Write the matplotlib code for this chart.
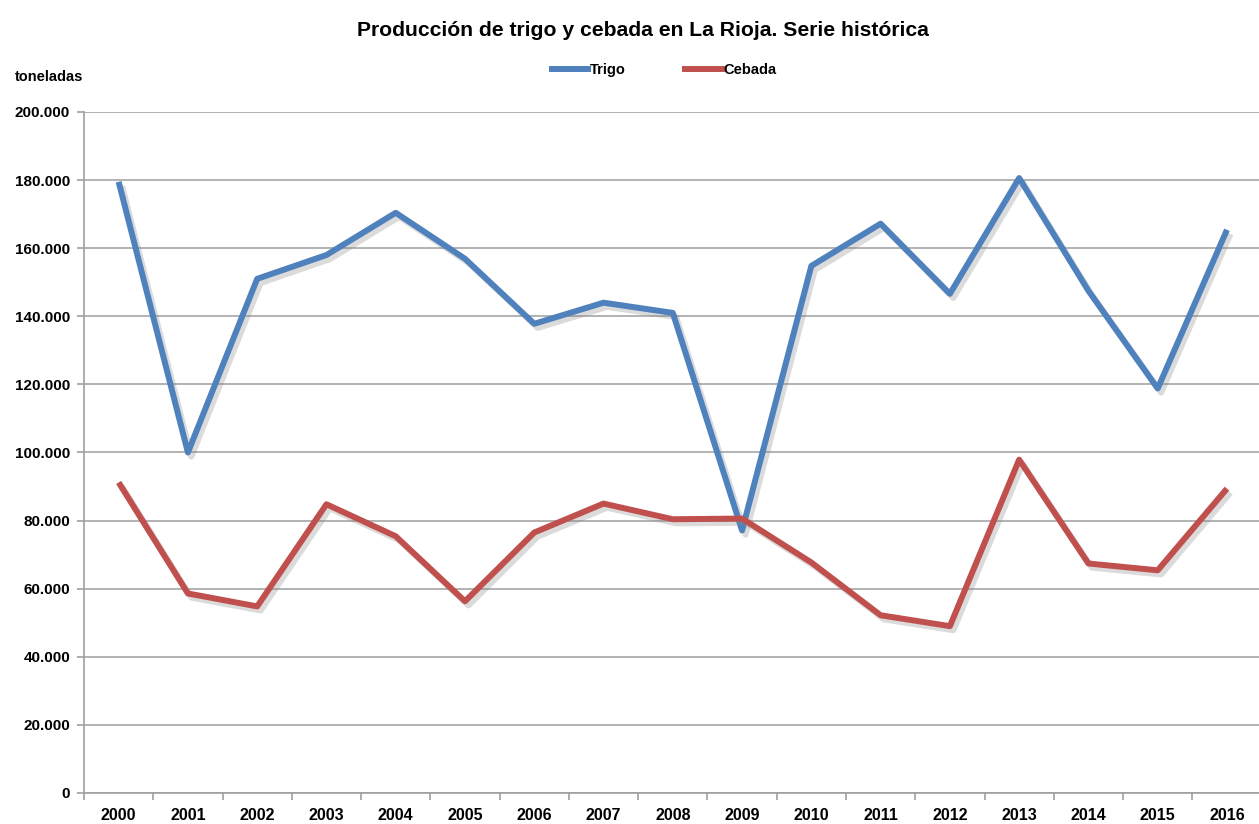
#!/usr/bin/env python3
import matplotlib
matplotlib.use('agg')
import matplotlib.pyplot as plt
import matplotlib.patheffects as pe
from matplotlib.lines import Line2D
from matplotlib.ticker import FuncFormatter, FixedLocator, NullFormatter
import numpy as np

plt.rcParams['font.family'] = ['Liberation Sans', 'DejaVu Sans']
plt.rcParams['font.weight'] = 'bold'

years = ["2000", "2001", "2002", "2003", "2004", "2005", "2006", "2007", "2008",
         "2009", "2010", "2011", "2012", "2013", "2014", "2015", "2016"]
trigo = [179500, 100000, 151000, 158000, 170400, 156900, 137800, 144000, 141000,
         77100, 154800, 167200, 146600, 180600, 147500, 118800, 165400]
cebada = [91200, 58600, 54800, 84800, 75400, 56300, 76500, 85000, 80400,
          80600, 67700, 52200, 49000, 97900, 67400, 65400, 89400]

BLUE = "#4F81BD"
RED = "#C0504D"

W, H = 1259, 824
fig = plt.figure(figsize=(W / 100, H / 100), dpi=100)
left, right, top, bottom = 84, 1261.6, 112, 793
ax = fig.add_axes([left / W, 1 - bottom / H, (right - left) / W, (bottom - top) / H])

x = np.arange(len(years))
shadow = [pe.SimpleLineShadow(offset=(2.5, -3), shadow_color="#888888", alpha=0.3),
          pe.Normal()]
ax.plot(x, trigo, color=BLUE, lw=4.3, path_effects=shadow,
        solid_joinstyle="round", solid_capstyle="butt", zorder=3)
ax.plot(x, cebada, color=RED, lw=4.3, path_effects=shadow,
        solid_joinstyle="round", solid_capstyle="butt", zorder=3)

ax.set_xlim(-0.5, len(years) - 0.5)
ax.set_ylim(0, 200000)
ax.set_yticks(np.arange(0, 200001, 20000))
ax.yaxis.set_major_formatter(FuncFormatter(
    lambda v, p: "0" if v == 0 else f"{int(v):,}".replace(",", ".")))
ax.xaxis.set_major_locator(FixedLocator(np.arange(-0.5, len(years), 1)))
ax.xaxis.set_major_formatter(NullFormatter())
ax.xaxis.set_minor_locator(FixedLocator(x))
ax.set_xticklabels(years, minor=True)
ax.tick_params(axis="x", which="minor", length=0, pad=10.5, labelsize=11.5)
ax.tick_params(axis="x", which="major", length=5, color="#A0A0A0", width=1.2)
ax.tick_params(axis="y", length=5, color="#A0A0A0", width=1.2, labelsize=11, pad=5)

ax.grid(axis="y", color="#A6A6A6", lw=1.2)
ax.set_axisbelow(True)
for s in ["top", "right"]:
    ax.spines[s].set_visible(False)
for s in ["left", "bottom"]:
    ax.spines[s].set_color("#A0A0A0")
    ax.spines[s].set_linewidth(1.2)

fig.text(643 / W, 1 - 30 / H, "Producción de trigo y cebada en La Rioja. Serie histórica",
         ha="center", va="center", fontsize=15.2, fontweight="bold")
fig.text(15 / W, 1 - 77 / H, "toneladas", ha="left", va="center", fontsize=10.5,
         fontweight="bold")

handles = [Line2D([], [], color=BLUE, lw=4.3), Line2D([], [], color=RED, lw=4.3)]
fig.legend(handles, ["Trigo", "Cebada"], loc="center", bbox_to_anchor=(664 / W, 1 - 70 / H),
           ncol=2, frameon=False, fontsize=10.5, handlelength=2.5, handletextpad=0.1,
           columnspacing=4.1)

fig.savefig("out.png", dpi=100)
